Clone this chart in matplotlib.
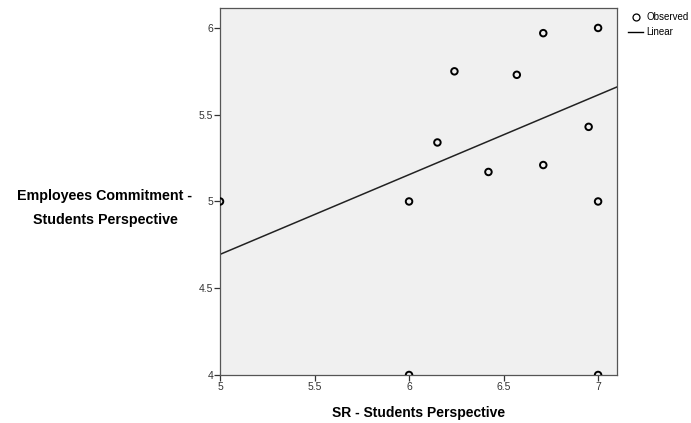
import matplotlib
matplotlib.use("Agg")
import matplotlib.pyplot as plt
from matplotlib.lines import Line2D

plt.rcParams["font.family"] = ["Liberation Sans", "DejaVu Sans"]

# observed values
sr = [7.0, 6.71, 6.24, 6.57, 6.15, 6.95, 6.71, 6.42, 6.0, 7.0, 5.0, 6.0, 7.0]
commitment = [6.0, 5.97, 5.75, 5.73, 5.34, 5.43, 5.21, 5.17, 5.0, 5.0, 5.0, 4.0, 4.0]

# linear fit line
fit_x = [5.0, 7.1]
fit_y = [4.695, 5.66]

fig = plt.figure(figsize=(6.91, 4.23), dpi=100)
ax = fig.add_axes([0.3184, 0.1135, 0.5745, 0.8676])
ax.set_facecolor("#f0f0f0")

ax.plot(fit_x, fit_y, color="#222222", linewidth=1.1)
ax.scatter(sr, commitment, s=22, facecolors="none", edgecolors="black", linewidths=1.4, zorder=3)

ax.set_xlim(5.0, 7.1)
ax.set_ylim(4.0, 6.115)
ax.set_xticks([5, 5.5, 6, 6.5, 7])
ax.set_xticklabels(["5", "5.5", "6", "6.5", "7"])
ax.set_yticks([4, 4.5, 5, 5.5, 6])
ax.set_yticklabels(["4", "4.5", "5", "5.5", "6"])
ax.tick_params(axis="both", labelsize=7.5, length=4, width=0.9, direction="out", colors="#333333", pad=1)

for s in ax.spines.values():
    s.set_color("#555555")
    s.set_linewidth(0.9)

ax.set_xlabel("SR - Students Perspective", fontsize=10, fontweight="bold", labelpad=10)
fig.text(0.152, 0.508, "Employees Commitment -\nStudents Perspective", fontsize=10.3,
         fontweight="bold", ha="center", va="center", linespacing=1.95)

handles = [
    Line2D([], [], marker="o", linestyle="none", markerfacecolor="none",
           markeredgecolor="black", markersize=5, markeredgewidth=0.9),
    Line2D([], [], color="black", linewidth=1.0),
]
fig.legend(handles, ["Observed", "Linear"], loc="upper left", bbox_to_anchor=(0.903, 0.98),
           frameon=False, fontsize=7, handlelength=1.6, handletextpad=0.3,
           labelspacing=0.5, borderaxespad=0)

fig.savefig("out.png", dpi=100)
